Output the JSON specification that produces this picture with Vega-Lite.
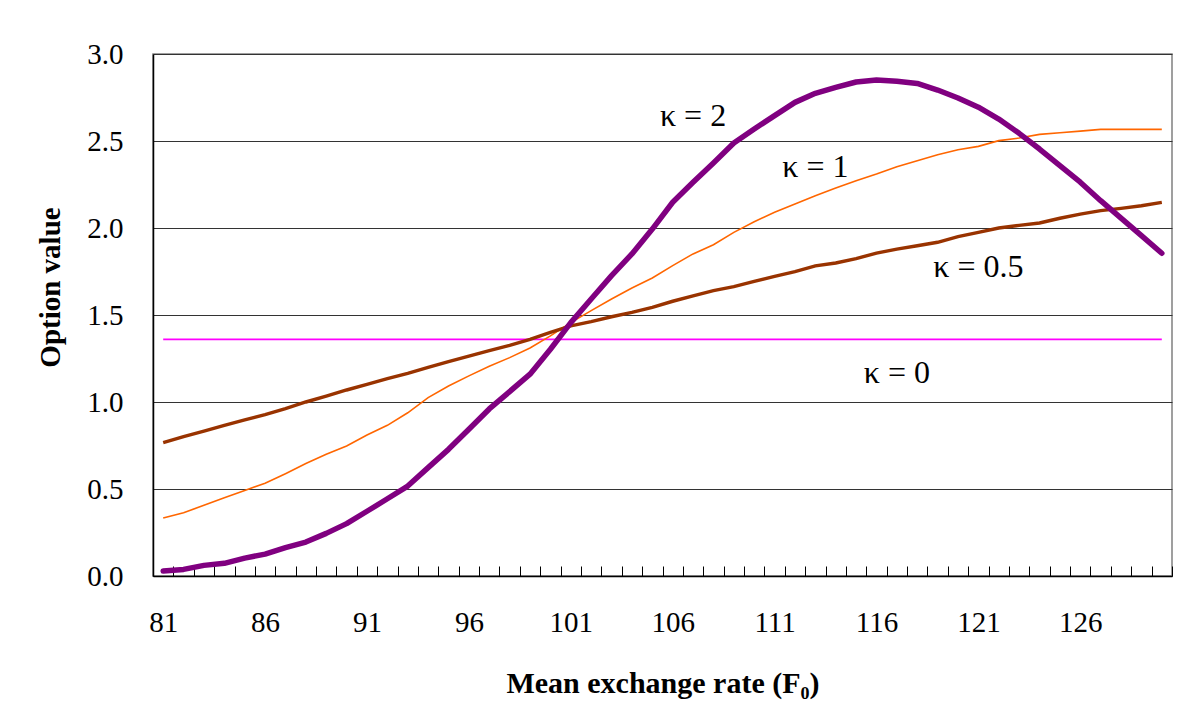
{
  "$schema": "https://vega.github.io/schema/vega-lite/v6.json",
  "width": 1019,
  "height": 522,
  "autosize": {"type": "none"},
  "padding": {"left": 153, "top": 54, "right": 14, "bottom": 144},
  "background": "white",
  "config": {
    "font": "Liberation Serif",
    "view": {"stroke": "#808080", "strokeWidth": 1.5},
    "axis": {"labelFont": "Liberation Serif", "titleFont": "Liberation Serif", "labelColor": "black", "titleColor": "black"}
  },
  "datasets": {
    "series": [
      {"F":81,"k0":1.36,"k05":0.766,"k1":0.333,"k2":0.029},
      {"F":82,"k0":1.36,"k05":0.801,"k1":0.364,"k2":0.038},
      {"F":83,"k0":1.36,"k05":0.833,"k1":0.406,"k2":0.061},
      {"F":84,"k0":1.36,"k05":0.866,"k1":0.450,"k2":0.073},
      {"F":85,"k0":1.36,"k05":0.897,"k1":0.492,"k2":0.103},
      {"F":86,"k0":1.36,"k05":0.927,"k1":0.533,"k2":0.126},
      {"F":87,"k0":1.36,"k05":0.962,"k1":0.588,"k2":0.163},
      {"F":88,"k0":1.36,"k05":1.000,"k1":0.646,"k2":0.195},
      {"F":89,"k0":1.36,"k05":1.034,"k1":0.700,"k2":0.245},
      {"F":90,"k0":1.36,"k05":1.069,"k1":0.747,"k2":0.301},
      {"F":91,"k0":1.36,"k05":1.101,"k1":0.810,"k2":0.372},
      {"F":92,"k0":1.36,"k05":1.134,"k1":0.866,"k2":0.444},
      {"F":93,"k0":1.36,"k05":1.165,"k1":0.938,"k2":0.517},
      {"F":94,"k0":1.36,"k05":1.199,"k1":1.025,"k2":0.623},
      {"F":95,"k0":1.36,"k05":1.232,"k1":1.092,"k2":0.728},
      {"F":96,"k0":1.36,"k05":1.264,"k1":1.150,"k2":0.843},
      {"F":97,"k0":1.36,"k05":1.295,"k1":1.205,"k2":0.960},
      {"F":98,"k0":1.36,"k05":1.326,"k1":1.255,"k2":1.060},
      {"F":99,"k0":1.36,"k05":1.360,"k1":1.310,"k2":1.160},
      {"F":100,"k0":1.36,"k05":1.400,"k1":1.380,"k2":1.303},
      {"F":101,"k0":1.36,"k05":1.437,"k1":1.456,"k2":1.456},
      {"F":102,"k0":1.36,"k05":1.462,"k1":1.525,"k2":1.592},
      {"F":103,"k0":1.36,"k05":1.490,"k1":1.592,"k2":1.726},
      {"F":104,"k0":1.36,"k05":1.515,"k1":1.655,"k2":1.851},
      {"F":105,"k0":1.36,"k05":1.544,"k1":1.713,"k2":1.994},
      {"F":106,"k0":1.36,"k05":1.579,"k1":1.784,"k2":2.148},
      {"F":107,"k0":1.36,"k05":1.610,"k1":1.851,"k2":2.263},
      {"F":108,"k0":1.36,"k05":1.640,"k1":1.904,"k2":2.374},
      {"F":109,"k0":1.36,"k05":1.663,"k1":1.975,"k2":2.489},
      {"F":110,"k0":1.36,"k05":1.693,"k1":2.036,"k2":2.569},
      {"F":111,"k0":1.36,"k05":1.722,"k1":2.090,"k2":2.646},
      {"F":112,"k0":1.36,"k05":1.749,"k1":2.138,"k2":2.722},
      {"F":113,"k0":1.36,"k05":1.782,"k1":2.186,"k2":2.774},
      {"F":114,"k0":1.36,"k05":1.799,"k1":2.230,"k2":2.808},
      {"F":115,"k0":1.36,"k05":1.824,"k1":2.272,"k2":2.839},
      {"F":116,"k0":1.36,"k05":1.856,"k1":2.310,"k2":2.850},
      {"F":117,"k0":1.36,"k05":1.879,"k1":2.352,"k2":2.843},
      {"F":118,"k0":1.36,"k05":1.898,"k1":2.387,"k2":2.831},
      {"F":119,"k0":1.36,"k05":1.918,"k1":2.421,"k2":2.793},
      {"F":120,"k0":1.36,"k05":1.950,"k1":2.450,"k2":2.747},
      {"F":121,"k0":1.36,"k05":1.975,"k1":2.469,"k2":2.694},
      {"F":122,"k0":1.36,"k05":2.000,"k1":2.502,"k2":2.626},
      {"F":123,"k0":1.36,"k05":2.015,"k1":2.517,"k2":2.544},
      {"F":124,"k0":1.36,"k05":2.029,"k1":2.538,"k2":2.454},
      {"F":125,"k0":1.36,"k05":2.056,"k1":2.547,"k2":2.358},
      {"F":126,"k0":1.36,"k05":2.080,"k1":2.557,"k2":2.263},
      {"F":127,"k0":1.36,"k05":2.100,"k1":2.567,"k2":2.157},
      {"F":128,"k0":1.36,"k05":2.113,"k1":2.567,"k2":2.057},
      {"F":129,"k0":1.36,"k05":2.128,"k1":2.567,"k2":1.956},
      {"F":130,"k0":1.36,"k05":2.147,"k1":2.567,"k2":1.855}
    ],
    "labels": [
      {"F":107,"value":2.644,"label":"κ = 2","shift":5},
      {"F":113,"value":2.351,"label":"κ = 1","shift":8},
      {"F":121,"value":1.776,"label":"κ = 0.5","shift":-7},
      {"F":117,"value":1.168,"label":"κ = 0","shift":6}
    ]
  },
  "data": {"name": "series"},
  "encoding": {
    "x": {
      "field": "F",
      "type": "ordinal",
      "sort": "ascending",
      "scale": {"type": "band", "paddingInner": 0, "paddingOuter": 0},
      "axis": {
        "title": "Mean exchange rate (F₀)",
        "titleFontSize": 30,
        "titleFontWeight": "bold",
        "titleBaseline": "middle",
        "titleY": 107,
        "labelAngle": 0,
        "labelFontSize": 29,
        "labelPadding": 42,
        "labelOverlap": false,
        "labelExpr": "(datum.value - 81) % 5 === 0 ? datum.label : ''",
        "tickBand": "extent",
        "tickSize": -10,
        "tickColor": "black",
        "domainColor": "black",
        "domainWidth": 1.5,
        "grid": false
      }
    }
  },
  "layer": [
    {
      "mark": {"type": "line", "color": "#FF00FF", "strokeWidth": 1.6},
      "encoding": {
        "y": {
          "field": "k0",
          "type": "quantitative",
          "scale": {"domain": [0, 3], "nice": false, "zero": true},
          "axis": {
            "title": "Option value",
            "titleFontSize": 29,
            "titleFontWeight": "bold",
            "titleBaseline": "middle",
            "titleX": -103,
            "titleY": 233,
            "values": [0, 0.5, 1, 1.5, 2, 2.5, 3],
            "format": ".1f",
            "labelFontSize": 29,
            "labelPadding": 30,
            "ticks": false,
            "grid": true,
            "gridColor": "#333333",
            "gridWidth": 1,
            "domainColor": "black",
            "domainWidth": 1.5
          }
        }
      }
    },
    {
      "mark": {"type": "line", "color": "#FF6600", "strokeWidth": 1.6},
      "encoding": {"y": {"field": "k1", "type": "quantitative"}}
    },
    {
      "mark": {"type": "line", "color": "#993300", "strokeWidth": 3.4},
      "encoding": {"y": {"field": "k05", "type": "quantitative"}}
    },
    {
      "mark": {"type": "line", "color": "#800080", "strokeWidth": 5.5, "strokeCap": "round", "strokeJoin": "round"},
      "encoding": {"y": {"field": "k2", "type": "quantitative"}}
    },
    {
      "data": {"name": "labels"},
      "mark": {"type": "text", "font": "Liberation Serif", "fontSize": 32, "color": "black", "align": "center", "baseline": "middle"},
      "encoding": {
        "y": {"field": "value", "type": "quantitative"},
        "text": {"field": "label"},
        "dx": {"field": "shift", "type": "quantitative", "scale": null}
      }
    }
  ]
}
